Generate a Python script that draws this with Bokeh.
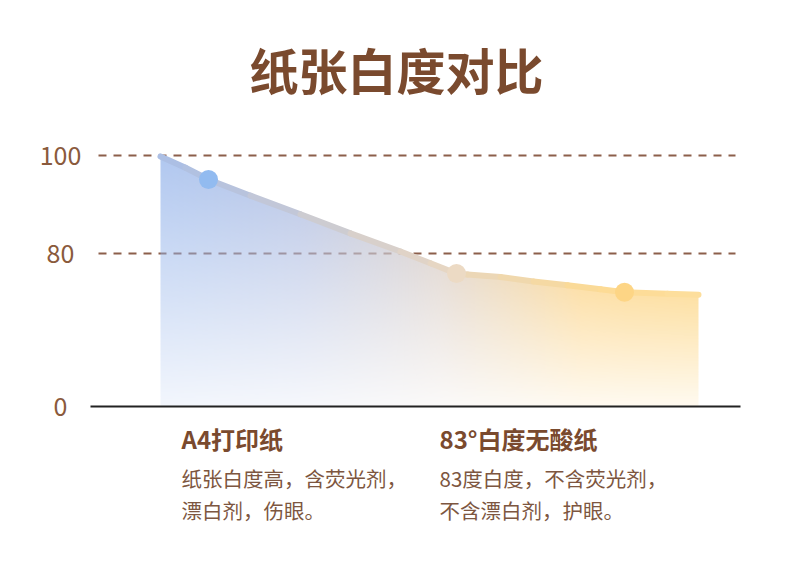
import numpy as np
from bokeh.plotting import figure
from bokeh.models import Range1d
from bokeh.core.properties import value
from bokeh.embed import file_html
from bokeh.resources import INLINE

# ---------------- data ----------------
title_text = "纸张白度对比"
categories = ["A4打印纸", "83°白度无酸纸"]
descriptions = [["纸张白度高，含荧光剂，", "漂白剂，伤眼。"],
                ["83度白度，不含荧光剂，", "不含漂白剂，护眼。"]]
# whiteness curve (position along the chart, whiteness value)
curve_x = [70, 95, 118, 160, 210, 260, 310, 340, 366, 377, 410, 443, 477, 510, 534, 577, 608]
curve_v = [99.8, 97.5, 95.1, 91.8, 88.0, 84.1, 80.4, 78.0, 75.9, 75.7, 75.2, 74.3, 73.5, 72.7, 72.1, 71.8, 71.6]
# highlighted points
point_x = [118, 366, 534]
point_v = [95.1, 75.9, 72.1]
point_colors = ["#92bbf0", "#ecdac4", "#fdd585"]
# y axis (broken axis: bottom is labelled 0)
grid_values = [100, 80]
tick_values = [100, 80]
tick_labels = ["100", "80"]
axis_floor_label = "0"

# ---------------- layout helpers ----------------
FIG_W, FIG_H = 774, 564
OFFSET = 0            # where the figure lands in the page
X0_PAGE = 90          # page x of position 0
Y100_PAGE = 155       # page y of value 100
PX_PER_UNIT = 4.9     # vertical pixels per whiteness unit
BASELINE_PAGE = 406


def page_x(px):
    return px - X0_PAGE


def page_y(py):
    return 100 - (py - Y100_PAGE) / PX_PER_UNIT


AXIS_FLOOR = page_y(BASELINE_PAGE)

p = figure(width=FIG_W, height=FIG_H,
           x_range=Range1d(page_x(OFFSET), page_x(OFFSET + FIG_W)),
           y_range=Range1d(page_y(OFFSET + FIG_H), page_y(OFFSET)),
           output_backend="svg", toolbar_location=None,
           x_axis_location=None, y_axis_location=None, min_border=0)
p.outline_line_color = None
p.grid.visible = False
p.background_fill_color = "white"
p.border_fill_color = "white"

FONT = value("Noto Sans CJK SC")
BROWN = "#7a4a2e"

# dashed reference lines
p.segment(x0=[page_x(98)] * len(grid_values), x1=[page_x(735)] * len(grid_values),
          y0=grid_values, y1=grid_values, line_color="#8c5f4b", line_width=2,
          line_dash="8 7")

# ---------------- gradient area ----------------
stop_px = [page_x(v) for v in (160, 300, 440, 580, 698)]
stop_rgb = np.array([(146, 178, 234), (176, 190, 226), (220, 208, 200),
                     (252, 212, 136), (252, 212, 128)], dtype=float)
A_TOP, A_BOT = 0.72, 0.12

x_lo, x_hi = curve_x[0], curve_x[-1]
W = int(round(x_hi - x_lo))
H = int(np.ceil((max(curve_v) - AXIS_FLOOR) * PX_PER_UNIT))
dh = H / PX_PER_UNIT
cx = x_lo + (np.arange(W) + 0.5) * (x_hi - x_lo) / W
cy = AXIS_FLOOR + (np.arange(H) + 0.5) * dh / H
cv = np.interp(cx, curve_x, curve_v)
CV, CY = np.meshgrid(cv, cy)
inside = CY <= CV
t = np.clip((CV - CY) / (CV - AXIS_FLOOR), 0, 1)
alpha = A_TOP - (A_TOP - A_BOT) * t
rgba = np.zeros((H, W, 4), dtype=np.uint8)
for c in range(3):
    rgba[..., c] = np.interp(cx, stop_px, stop_rgb[:, c])[None, :].astype(np.uint8)
rgba[..., 3] = np.where(inside, alpha * 255, 0).astype(np.uint8)
img = np.ascontiguousarray(rgba).view(np.uint32).reshape(H, W)
p.image_rgba(image=[img], x=x_lo, y=AXIS_FLOOR, dw=x_hi - x_lo, dh=dh)

# baseline
p.segment(x0=[page_x(90)], x1=[page_x(740)], y0=[AXIS_FLOOR], y1=[AXIS_FLOOR],
          line_color="#222222", line_width=2)

# ---------------- gradient line ----------------
lstop_px = [page_x(v) for v in (160, 440, 600, 698)]
lstop_rgb = np.array([(170, 190, 230), (230, 214, 196), (253, 219, 148), (253, 223, 158)], dtype=float)
mid = (np.array(curve_x[:-1]) + np.array(curve_x[1:])) / 2
seg_cols = []
for m in mid:
    r, g, b = (int(np.interp(m, lstop_px, lstop_rgb[:, c])) for c in range(3))
    seg_cols.append("#%02x%02x%02x" % (r, g, b))
p.segment(x0=curve_x[:-1], y0=curve_v[:-1], x1=curve_x[1:], y1=curve_v[1:],
          line_color=seg_cols, line_width=6, line_cap="round")

p.scatter(point_x, point_v, size=19, fill_color=point_colors, line_color=None)

# ---------------- texts ----------------
p.text(x=[page_x(396)], y=[page_y(68)], text=[title_text], text_font=FONT,
       text_font_size="49px", text_font_style="bold", text_color=BROWN,
       text_align="center", text_baseline="middle")

p.text(x=[page_x(60)] * (len(tick_values) + 1), y=tick_values + [AXIS_FLOOR],
       text=tick_labels + [axis_floor_label], text_font=FONT, text_font_size="25px",
       text_color="#8a5a3c", text_align="center", text_baseline="middle")

head_x = [page_x(181), page_x(439)]
p.text(x=head_x, y=[page_y(438)] * 2, text=categories, text_font=FONT,
       text_font_size="24px", text_font_style="bold", text_color=BROWN,
       text_align="left", text_baseline="middle")
for k, line_py in enumerate((477, 509)):
    p.text(x=head_x, y=[page_y(line_py)] * 2, text=[d[k] for d in descriptions],
           text_font=FONT, text_font_size="20.5px", text_color="#7d5640",
           text_align="left", text_baseline="middle")

open("out.html", "w").write(file_html(p, INLINE))
